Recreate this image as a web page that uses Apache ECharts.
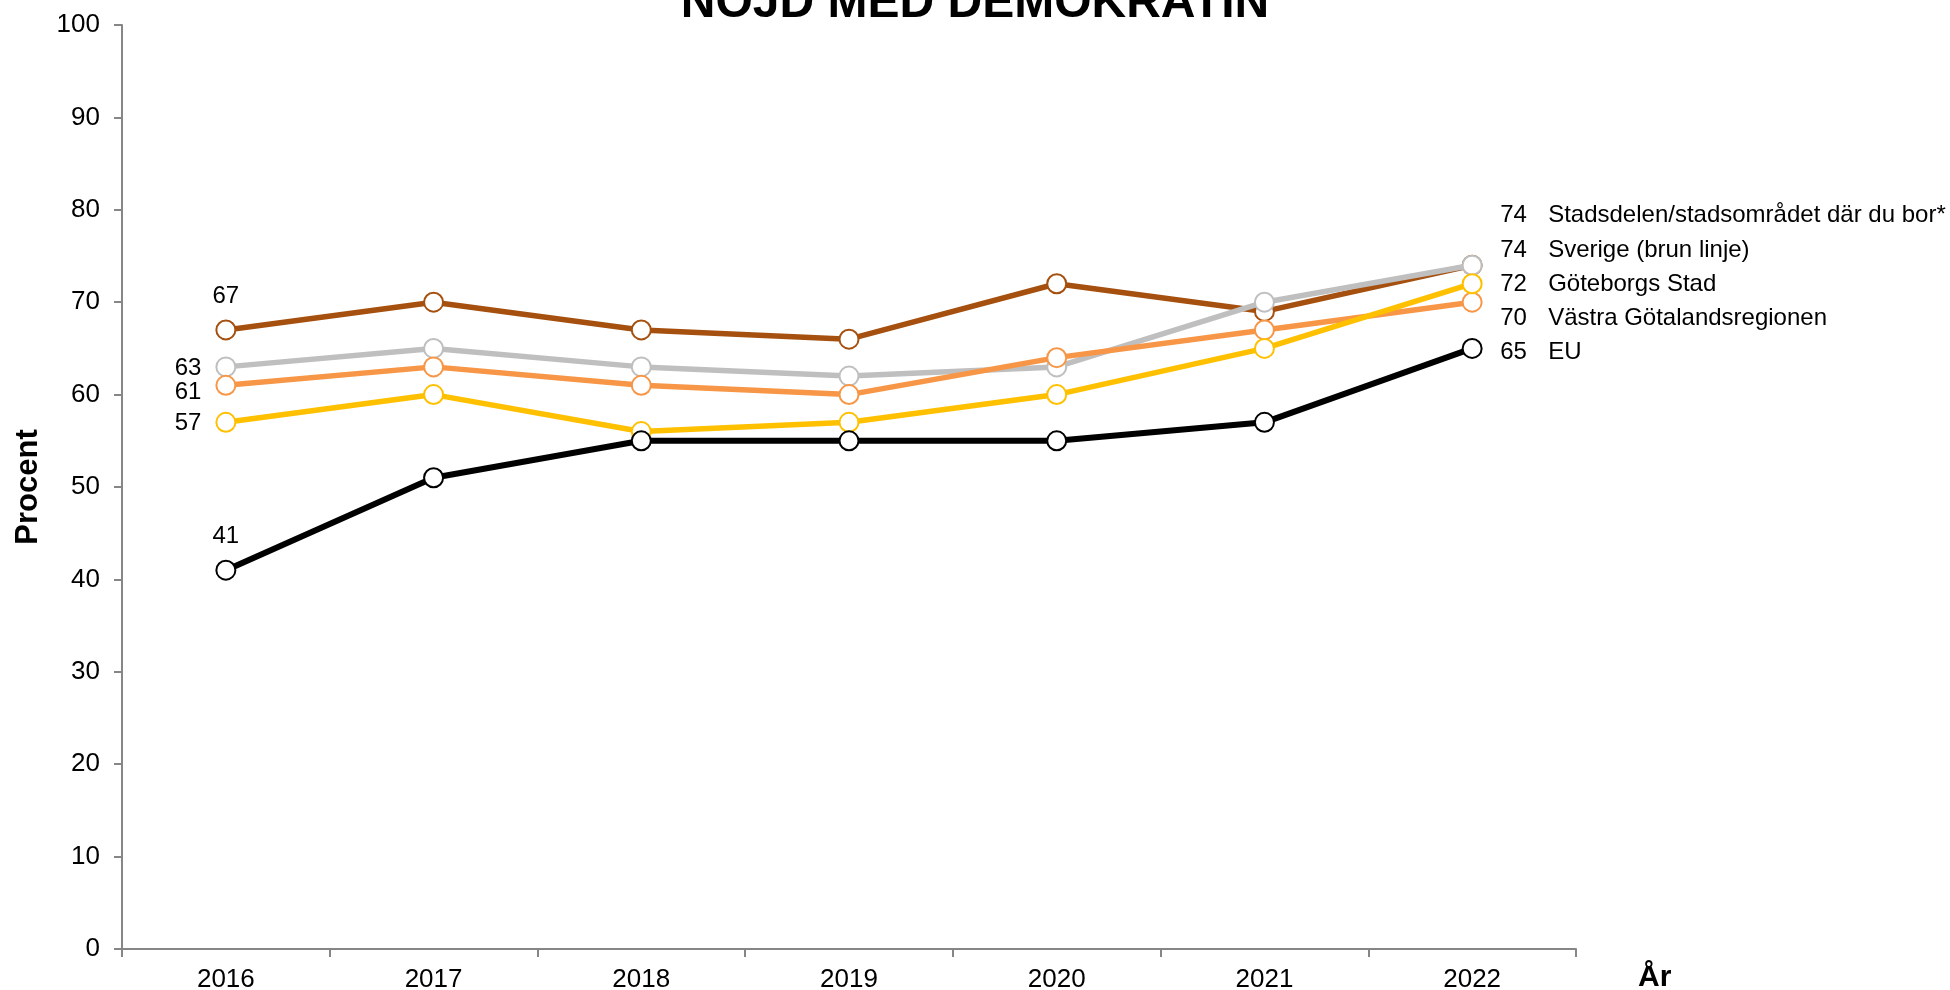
<!DOCTYPE html>
<html>
<head>
<meta charset="utf-8">
<title>Nöjd med demokratin</title>
<script src="https://cdn.jsdelivr.net/npm/echarts@6/dist/echarts.min.js"></script>
<style>
  html, body { margin: 0; padding: 0; background: #fff; }
  #main { width: 1950px; height: 990px; }
</style>
</head>
<body>
<div id="main"></div>
<script>
let years = ['2016', '2017', '2018', '2019', '2020', '2021', '2022'];
let yTicks = [0, 10, 20, 30, 40, 50, 60, 70, 80, 90, 100];

// värden
let stadsdelen = [63, 65, 63, 62, 63, 70, 74];
let sverige = [67, 70, 67, 66, 72, 69, 74];
let goteborg = [57, 60, 56, 57, 60, 65, 72];
let vgr = [61, 63, 61, 60, 64, 67, 70];
let eu = [41, 51, 55, 55, 55, 57, 65];

let seriesNames = ['Stadsdelen/stadsområdet där du bor*', 'Sverige (brun linje)', 'Göteborgs Stad', 'Västra Götalandsregionen', 'EU'];

const FONT = "'Liberation Sans', Arial, sans-serif";

// första punkten får en etikett (till vänster eller ovanför)
function withFirstLabel(values, position, dy) {
    return values.map(function (v, i) {
        if (i !== 0) return v;
        return {
            value: v,
            label: {
                show: true,
                position: position,
                distance: position === 'top' ? 11 : 14,
                offset: [0, dy],
                fontSize: 24,
                fontFamily: FONT,
                color: '#000'
            }
        };
    });
}

function lineSeries(name, values, color, width, firstLabelPos, firstDy, endDy, z) {
    return {
        name: name,
        type: 'line',
        z: z,
        data: firstLabelPos ? withFirstLabel(values, firstLabelPos, firstDy) : values,
        symbol: 'circle',
        symbolSize: 19,
        lineStyle: { color: color, width: width },
        itemStyle: { color: '#fff', borderColor: color, borderWidth: 2 },
        label: { show: false },
        endLabel: {
            show: true,
            distance: 28,
            offset: [0, endDy],
            formatter: function (p) {
                return '{v|' + p.value + '}{n|' + name + '}';
            },
            rich: {
                v: { width: 48, fontSize: 24, fontFamily: FONT, color: '#000' },
                n: { fontSize: 24, fontFamily: FONT, color: '#000' }
            }
        },
        emphasis: { disabled: true }
    };
}

let option = {
    animation: false,
    textStyle: { fontFamily: FONT },
    title: {
        text: 'NÖJD MED DEMOKRATIN',
        left: 'center',
        top: -25,
        textStyle: { fontSize: 48, fontWeight: 'bold', color: '#000', fontFamily: FONT }
    },
    grid: {
        left: 122,
        right: 374,
        top: 25,
        bottom: 41,
        containLabel: false,
        outerBoundsMode: 'none'
    },
    xAxis: {
        type: 'category',
        data: years,
        boundaryGap: true,
        name: 'År',
        nameLocation: 'end',
        nameGap: 62,
        nameTextStyle: {
            fontSize: 30, fontWeight: 'bold', color: '#000', fontFamily: FONT,
            align: 'left', verticalAlign: 'top', padding: [14, 0, 0, 0]
        },
        axisLine: { show: true, lineStyle: { color: '#868686', width: 2 } },
        axisTick: { show: true, length: 8, lineStyle: { color: '#868686', width: 2 } },
        axisLabel: { fontSize: 26, color: '#000', margin: 18, fontFamily: FONT },
        splitLine: { show: false }
    },
    yAxis: {
        type: 'value',
        min: yTicks[0],
        max: yTicks[yTicks.length - 1],
        interval: 10,
        name: 'Procent',
        nameLocation: 'middle',
        nameGap: 78,
        nameTextStyle: { fontSize: 31, fontWeight: 'bold', color: '#000', fontFamily: FONT },
        axisLine: { show: true, lineStyle: { color: '#868686', width: 2 } },
        axisTick: { show: true, length: 8, lineStyle: { color: '#868686', width: 2 } },
        axisLabel: { fontSize: 26, color: '#000', margin: 22, fontFamily: FONT },
        splitLine: { show: false }
    },
    series: [
        lineSeries(seriesNames[0], stadsdelen, '#BFBFBF', 5.5, 'left', 1, -50, 3),
        lineSeries(seriesNames[1], sverige, '#A5500F', 5.5, 'top', 0, -15, 2),
        lineSeries(seriesNames[2], goteborg, '#FFC000', 5.5, 'left', 1, 1, 4),
        lineSeries(seriesNames[3], vgr, '#F79646', 5.5, 'left', 7, 16, 3),
        lineSeries(seriesNames[4], eu, '#000000', 6, 'top', 0, 4, 5)
    ]
};

var myChart = echarts.init(document.getElementById('main'));
myChart.setOption(option, true);
</script>
</body>
</html>
